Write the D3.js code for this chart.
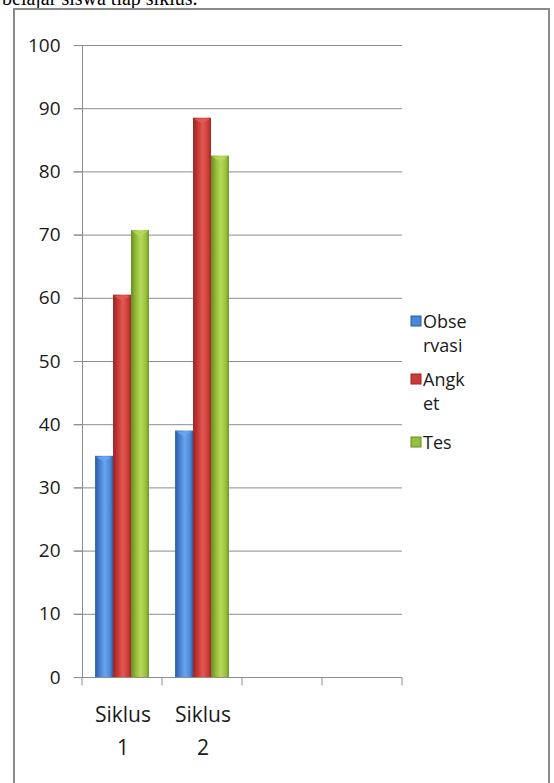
<!DOCTYPE html>
<html>
<head>
<meta charset="utf-8">
<script src="https://cdn.jsdelivr.net/npm/d3@7"></script>
<style>
  body { margin: 0; background: #fff; }
  svg { display: block; }
</style>
</head>
<body>
<div id="chart"></div>
<script>
// Chart data
const categories = ['Siklus 1', 'Siklus 2', '', ''];
const seriesNames = ['Observasi', 'Angket', 'Tes'];
const observasi = [35, 39];
const angket = [60.5, 88.5];
const tes = [70.7, 82.5];
const yTicks = [0, 10, 20, 30, 40, 50, 60, 70, 80, 90, 100];
const legendLines = [['Obse', 'rvasi'], ['Angk', 'et'], ['Tes']];

const seriesValues = [observasi, angket, tes];
const colors = [
  {dark: '#2a5aa0', mid: '#4a86d8', light: '#6aa4ec'},
  {dark: '#9a2424', mid: '#cc3a36', light: '#e05a52'},
  {dark: '#6a8a22', mid: '#96c03a', light: '#b6d85a'}
];

const W = 554, H = 783;
const svg = d3.select('#chart').append('svg')
  .attr('width', W).attr('height', H);

// gradients for bar shading
const defs = svg.append('defs');
colors.forEach((c, i) => {
  const g = defs.append('linearGradient')
    .attr('id', 'grad' + i)
    .attr('x1', '0%').attr('x2', '100%').attr('y1', '0%').attr('y2', '0%');
  g.append('stop').attr('offset', '0%').attr('stop-color', c.dark);
  g.append('stop').attr('offset', '30%').attr('stop-color', c.mid);
  g.append('stop').attr('offset', '55%').attr('stop-color', c.light);
  g.append('stop').attr('offset', '85%').attr('stop-color', c.mid);
  g.append('stop').attr('offset', '100%').attr('stop-color', c.dark);
});

// text above the frame (cut off in the original too)
svg.append('text')
  .attr('x', 2).attr('y', 5)
  .style('font-family', '"Liberation Serif", "Times New Roman", serif')
  .style('font-size', '20px')
  .attr('fill', '#000')
  .text('belajar siswa tiap siklus.');

// frame
svg.append('rect')
  .attr('x', 14).attr('y', 9)
  .attr('width', 535).attr('height', 790)
  .attr('fill', 'none')
  .attr('stroke', '#8a8a8a')
  .attr('stroke-width', 2);

const x = d3.scaleBand()
  .domain(d3.range(categories.length))
  .range([82, 402]);

const y = d3.scaleLinear()
  .domain([0, 100])
  .range([677, 45]);

const xInner = d3.scaleBand()
  .domain(d3.range(seriesNames.length))
  .range([0, x.bandwidth()])
  .paddingOuter(0.73);

const font = '"Open Sans", "Liberation Sans", sans-serif';

// gridlines
svg.append('g')
  .selectAll('line')
  .data(yTicks)
  .join('line')
  .attr('x1', 74).attr('x2', 402)
  .attr('y1', d => y(d) + 0.5).attr('y2', d => y(d) + 0.5)
  .attr('stroke', '#8c8c8c')
  .attr('stroke-width', 1);

// y axis
const yAxis = svg.append('g')
  .attr('transform', 'translate(82.5,0)')
  .call(d3.axisLeft(y).tickValues(yTicks).tickSize(9).tickPadding(13));
yAxis.select('.domain').attr('stroke', '#8c8c8c').attr('d', `M0,${y(100)}V${y(0)}`);
yAxis.selectAll('.tick line').attr('stroke', '#8c8c8c');
yAxis.selectAll('.tick text')
  .attr('fill', '#1a1a1a')
  .style('font-family', font)
  .style('font-size', '19px');

// bars
seriesValues.forEach((vals, s) => {
  svg.append('g')
    .selectAll('rect')
    .data(vals)
    .join('rect')
    .attr('x', (d, i) => x(i) + xInner(s))
    .attr('y', d => y(d))
    .attr('width', xInner.bandwidth())
    .attr('height', d => y(0) - y(d))
    .attr('fill', `url(#grad${s})`);
  // lighter cap on top of each column
  svg.append('g')
    .selectAll('path')
    .data(vals)
    .join('path')
    .attr('d', (d, i) => {
      const x0 = x(i) + xInner(s), w = xInner.bandwidth(), y0 = y(d);
      return `M${x0 + 1},${y0 + 1}L${x0 + w - 1},${y0 + 1}L${x0 + w / 2},${y0 + 6}Z`;
    })
    .attr('fill', colors[s].light)
    .attr('opacity', 0.9);
});

// x axis
const xAxis = svg.append('g')
  .attr('transform', `translate(0,${y(0) + 0.5})`);
xAxis.append('line')
  .attr('x1', 74).attr('x2', 402)
  .attr('stroke', '#8c8c8c');
xAxis.selectAll('.xt')
  .data(d3.range(categories.length + 1))
  .join('line')
  .attr('class', 'xt')
  .attr('x1', d => 82 + d * x.bandwidth())
  .attr('x2', d => 82 + d * x.bandwidth())
  .attr('y1', 0).attr('y2', 8)
  .attr('stroke', '#8c8c8c');

// category labels (wrapped)
categories.forEach((c, i) => {
  if (!c) return;
  const parts = c.split(' ');
  const t = svg.append('text')
    .attr('text-anchor', 'middle')
    .attr('fill', '#1a1a1a')
    .style('font-family', font)
    .style('font-size', '21px');
  parts.forEach((p, j) => {
    t.append('tspan')
      .attr('x', x(i) + x.bandwidth() / 2 + 1)
      .attr('y', 722 + j * 33)
      .text(p);
  });
});

// legend
const legendY = [328, 386, 449];
legendLines.forEach((lines, i) => {
  svg.append('rect')
    .attr('x', 411).attr('y', legendY[i] - 12)
    .attr('width', 10).attr('height', 10)
    .attr('fill', colors[i].mid)
    .attr('stroke', colors[i].dark)
    .attr('stroke-width', 1);
  lines.forEach((l, j) => {
    svg.append('text')
      .attr('x', 423)
      .attr('y', legendY[i] + j * 24)
      .attr('fill', '#1a1a1a')
      .style('font-family', font)
      .style('font-size', '18px')
      .text(l);
  });
});
</script>
</body>
</html>
